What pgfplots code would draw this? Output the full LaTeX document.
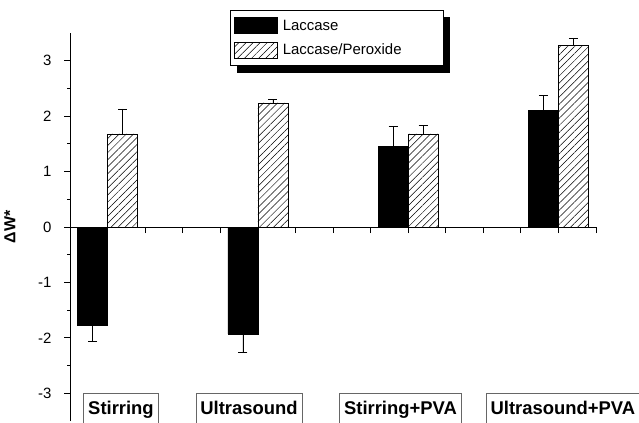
\documentclass[border=0pt]{standalone}
\usepackage{pgfplots}
\pgfplotsset{compat=1.18}
\usepackage{fontspec}
\setmainfont{Liberation Sans}
\usetikzlibrary{patterns.meta}
\pgfdeclarelayer{background}
\pgfsetlayers{background,main}
\begin{document}
\begin{tikzpicture}
\begin{axis}[
 at={(0,0)}, anchor=south west,
 scale only axis, width=526bp, height=388bp,
 xmin=0, xmax=14, ymin=-3.5, ymax=3.5,
 axis x line=middle, axis y line=left,
 axis line style={-, line width=0.8bp},
 xtick={0,...,14}, xticklabels={},
 xtick align=outside,
 ytick={-3,...,3}, minor y tick num=1, ytick align=outside,
 major tick length=6bp, minor tick length=3bp,
 tick style={line width=0.8bp, black},
 /pgf/number format/assume math mode=true,
 yticklabel style={font=\fontsize{15}{15}\selectfont, xshift=-9bp},
 ylabel={\bfseries ΔW*},
 every axis y label/.style={at={(axis description cs:-0.104,0.5)}, rotate=90, anchor=base, inner sep=0pt, font=\fontsize{16}{16}\selectfont},
 clip=false,
 legend style={name=leg, at={(0.304,1.059)}, anchor=north west, draw=black, line width=0.6bp, fill=white,
   font=\fontsize{15}{15}\selectfont,
   row sep=8bp, inner xsep=4bp, inner ysep=7bp, nodes={inner sep=0bp}, /tikz/column sep=5bp,
   cells={anchor=west}},
 legend image code/.code={\draw[#1] (0bp,-8bp) rectangle (43bp,8bp);},
 error bars/error mark=-,
 error bars/error bar style={black, line width=0.6bp, solid},
 error bars/error mark options={rotate=90, black, mark size=4.5bp, line width=0.6bp, solid},
]
% Laccase (black), negative values: error downward
\addplot[ybar, bar width=0.8, bar shift=0, fill=black, draw=black,
  error bars/.cd, y dir=minus, y explicit]
  coordinates {(0.6,-1.77) +- (0,0.30) (4.6,-1.93) +- (0,0.33)};
\addlegendentry{\makebox[156bp][l]{Laccase}}
% Laccase (black), positive values: error upward
\addplot[ybar, bar width=0.8, bar shift=0, fill=black, draw=black, forget plot,
  error bars/.cd, y dir=plus, y explicit]
  coordinates {(8.6,1.46) +- (0,0.35) (12.6,2.11) +- (0,0.26)};
% Laccase/Peroxide (hatched)
\addplot[ybar, bar width=0.8, bar shift=0, draw=black, line width=0.6bp,
  pattern={Lines[angle=45,distance=5bp,line width=0.5bp]}, pattern color=black,
  error bars/.cd, y dir=plus, y explicit]
  coordinates {(1.4,1.68) +- (0,0.45) (5.4,2.24) +- (0,0.06) (9.4,1.68) +- (0,0.15) (13.4,3.27) +- (0,0.14)};
\addlegendentry{\makebox[156bp][l]{Laccase/Peroxide}}
\begin{scope}[every node/.style={draw=gray!80!black, line width=0.6bp, anchor=north, inner xsep=4.5bp, inner ysep=8bp, font=\fontsize{18.5}{18.5}\selectfont\bfseries}]
\node at (axis cs:1.357,-3) {Stirring};
\node at (axis cs:4.764,-3) {Ultrasound};
\node at (axis cs:8.797,-3) {Stirring+PVA};
\node at (axis cs:13.12,-3) {Ultrasound+PVA};
\end{scope}
\end{axis}
\begin{pgfonlayer}{background}
\fill[black] ([shift={(7bp,-7bp)}]leg.south west) rectangle ([shift={(7bp,-7bp)}]leg.north east);
\end{pgfonlayer}
\pgfresetboundingbox
\path[use as bounding box] (-70bp,-2bp) rectangle (569bp,421bp);
\end{tikzpicture}
\end{document}
